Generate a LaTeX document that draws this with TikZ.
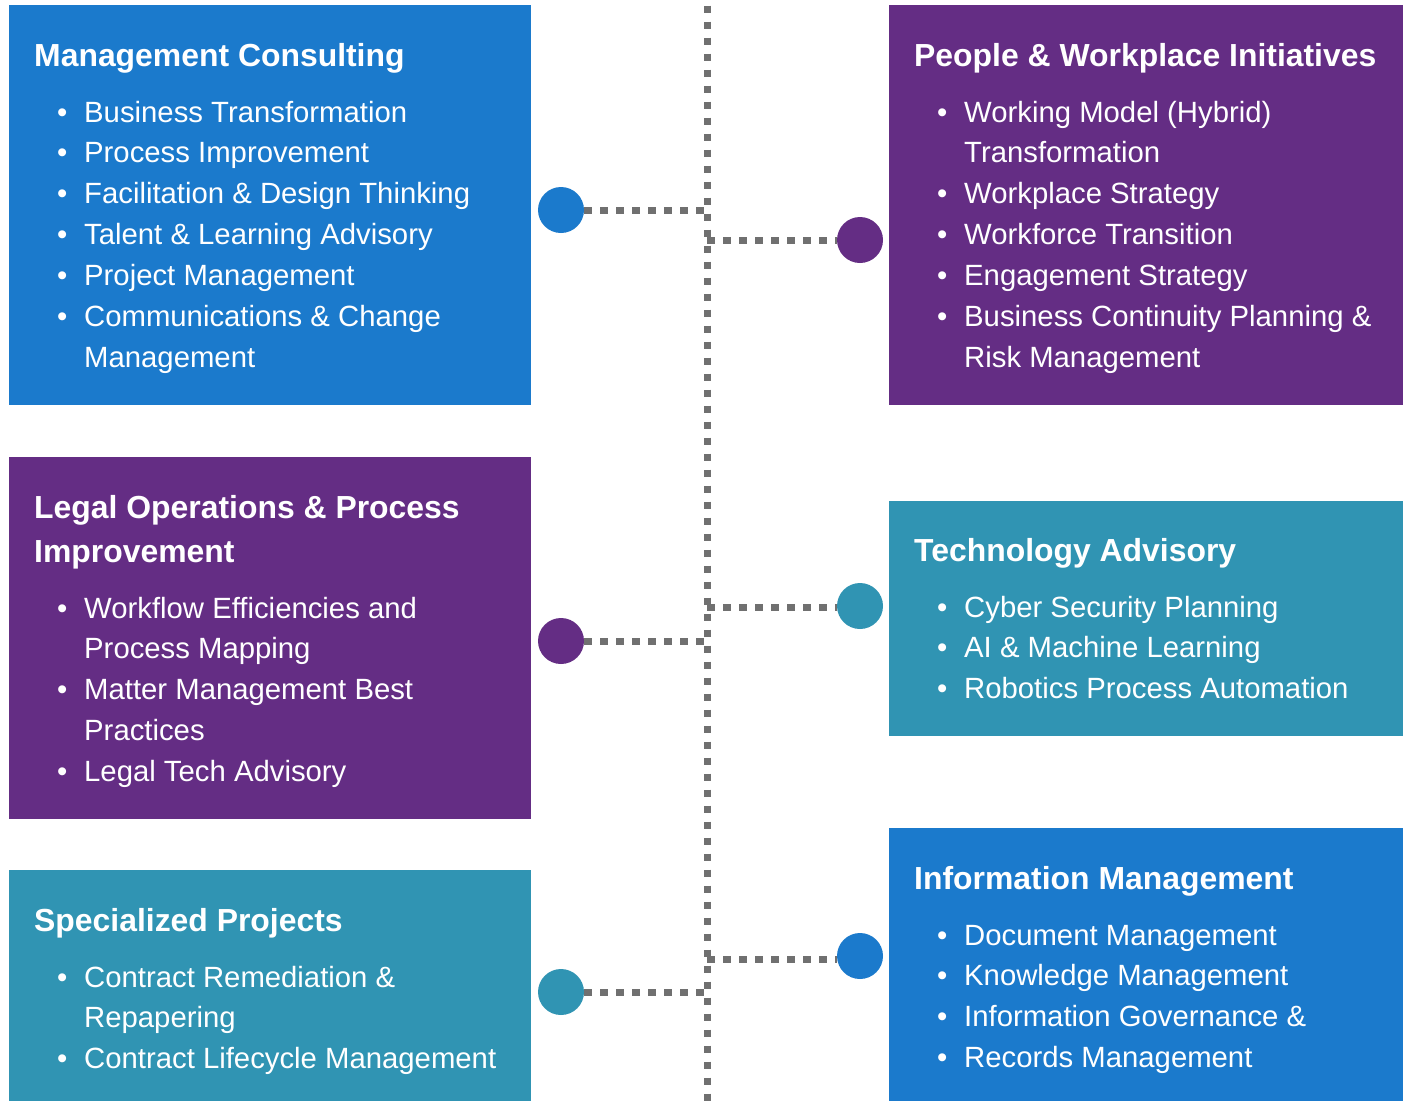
\documentclass[tikz,border=0pt]{standalone}
\usepackage{fontspec}
\setmainfont{Liberation Sans}
\definecolor{cblue}{RGB}{27,122,204}
\definecolor{cpurple}{RGB}{100,45,132}
\definecolor{cteal}{RGB}{48,148,179}
\definecolor{cgray}{RGB}{112,112,112}
\newcommand{\bi}[1]{\hbox{\makebox[27pt][l]{\textbullet}#1}}
\newcommand{\bc}[1]{\hbox{\hspace*{27pt}#1}}
\newcommand{\blist}[1]{\vtop{\fontsize{29.3}{40.9}\selectfont #1}}
\newcommand{\btitle}[1]{\vtop{\fontsize{31.9}{44}\selectfont\bfseries #1}}
\tikzset{
  panel/.style={draw=none, inner sep=0pt, outer sep=0pt},
  dot/.style={circle, minimum size=46pt, inner sep=0pt, outer sep=0pt},
  txt/.style={anchor=base west, inner sep=0pt, text=white},
  conn/.style={draw=cgray, line width=7pt, dash pattern=on 7.5pt off 8.5pt},
}
\begin{document}
\begin{tikzpicture}[x=1pt,y=-1pt]
\useasboundingbox (0,0) rectangle (1412,1101);
\fill[white] (0,0) rectangle (1412,1101);
% panels
\fill[cblue]   (9,5)    rectangle (531,405);
\fill[cpurple] (889,5)  rectangle (1403,405);
\fill[cpurple] (9,457)  rectangle (531,819);
\fill[cteal]   (889,501) rectangle (1403,736);
\fill[cteal]   (9,870)  rectangle (531,1101);
\fill[cblue]   (889,828) rectangle (1403,1101);
% vertical dotted line
\coordinate (vtop) at (707,0);
\coordinate (vbot) at (707,1101);
\draw[conn, dash phase=10.5pt] (vtop) -- (vbot);
% circles
\node[dot, fill=cblue]   (c1) at (561,210) {};
\node[dot, fill=cpurple] (c2) at (860,240) {};
\node[dot, fill=cpurple] (c3) at (561,641) {};
\node[dot, fill=cteal]   (c4) at (860,606) {};
\node[dot, fill=cteal]   (c5) at (561,992) {};
\node[dot, fill=cblue]   (c6) at (860,956) {};
% junctions
\coordinate (j1) at (707,210);
\coordinate (j2) at (707,240);
\coordinate (j3) at (707,641);
\coordinate (j4) at (707,607);
\coordinate (j5) at (707,992);
\coordinate (j6) at (707,959);
\draw[conn] (c1) -- (j1);
\draw[conn] (c3) -- (j3);
\draw[conn] (c5) -- (j5);
\draw[conn] (j2) -- (c2.west |- j2);
\draw[conn] (j4) -- (c4.west |- j4);
\draw[conn] (j6) -- (c6.west |- j6);
% texts
\node[txt] (t1) at (34,66) {\btitle{\hbox{Management Consulting}}};
\node[txt] (l1) at (57,122) {\blist{\bi{Business Transformation}\bi{Process Improvement}\bi{Facilitation \& Design Thinking}\bi{Talent \& Learning Advisory}\bi{Project Management}\bi{Communications \& Change}\bc{Management}}};
\node[txt] (t2) at (914,66) {\btitle{\hbox{People \& Workplace Initiatives}}};
\node[txt] (l2) at (937,122) {\blist{\bi{Working Model (Hybrid)}\bc{Transformation}\bi{Workplace Strategy}\bi{Workforce Transition}\bi{Engagement Strategy}\bi{Business Continuity Planning \&}\bc{Risk Management}}};
\node[txt] (t3) at (34,518) {\btitle{\hbox{Legal Operations \& Process}\hbox{Improvement}}};
\node[txt] (l3) at (57,618) {\blist{\bi{Workflow Efficiencies and}\bc{Process Mapping}\bi{Matter Management Best}\bc{Practices}\bi{Legal Tech Advisory}}};
\node[txt] (t4) at (914,561) {\btitle{\hbox{Technology Advisory}}};
\node[txt] (l4) at (937,617) {\blist{\bi{Cyber Security Planning}\bi{AI \& Machine Learning}\bi{Robotics Process Automation}}};
\node[txt] (t5) at (34,931) {\btitle{\hbox{Specialized Projects}}};
\node[txt] (l5) at (57,987) {\blist{\bi{Contract Remediation \&}\bc{Repapering}\bi{Contract Lifecycle Management}}};
\node[txt] (t6) at (914,889) {\btitle{\hbox{Information Management}}};
\node[txt] (l6) at (937,945) {\blist{\bi{Document Management}\bi{Knowledge Management}\bi{Information Governance \&}\bi{Records Management}}};
\end{tikzpicture}
\end{document}
